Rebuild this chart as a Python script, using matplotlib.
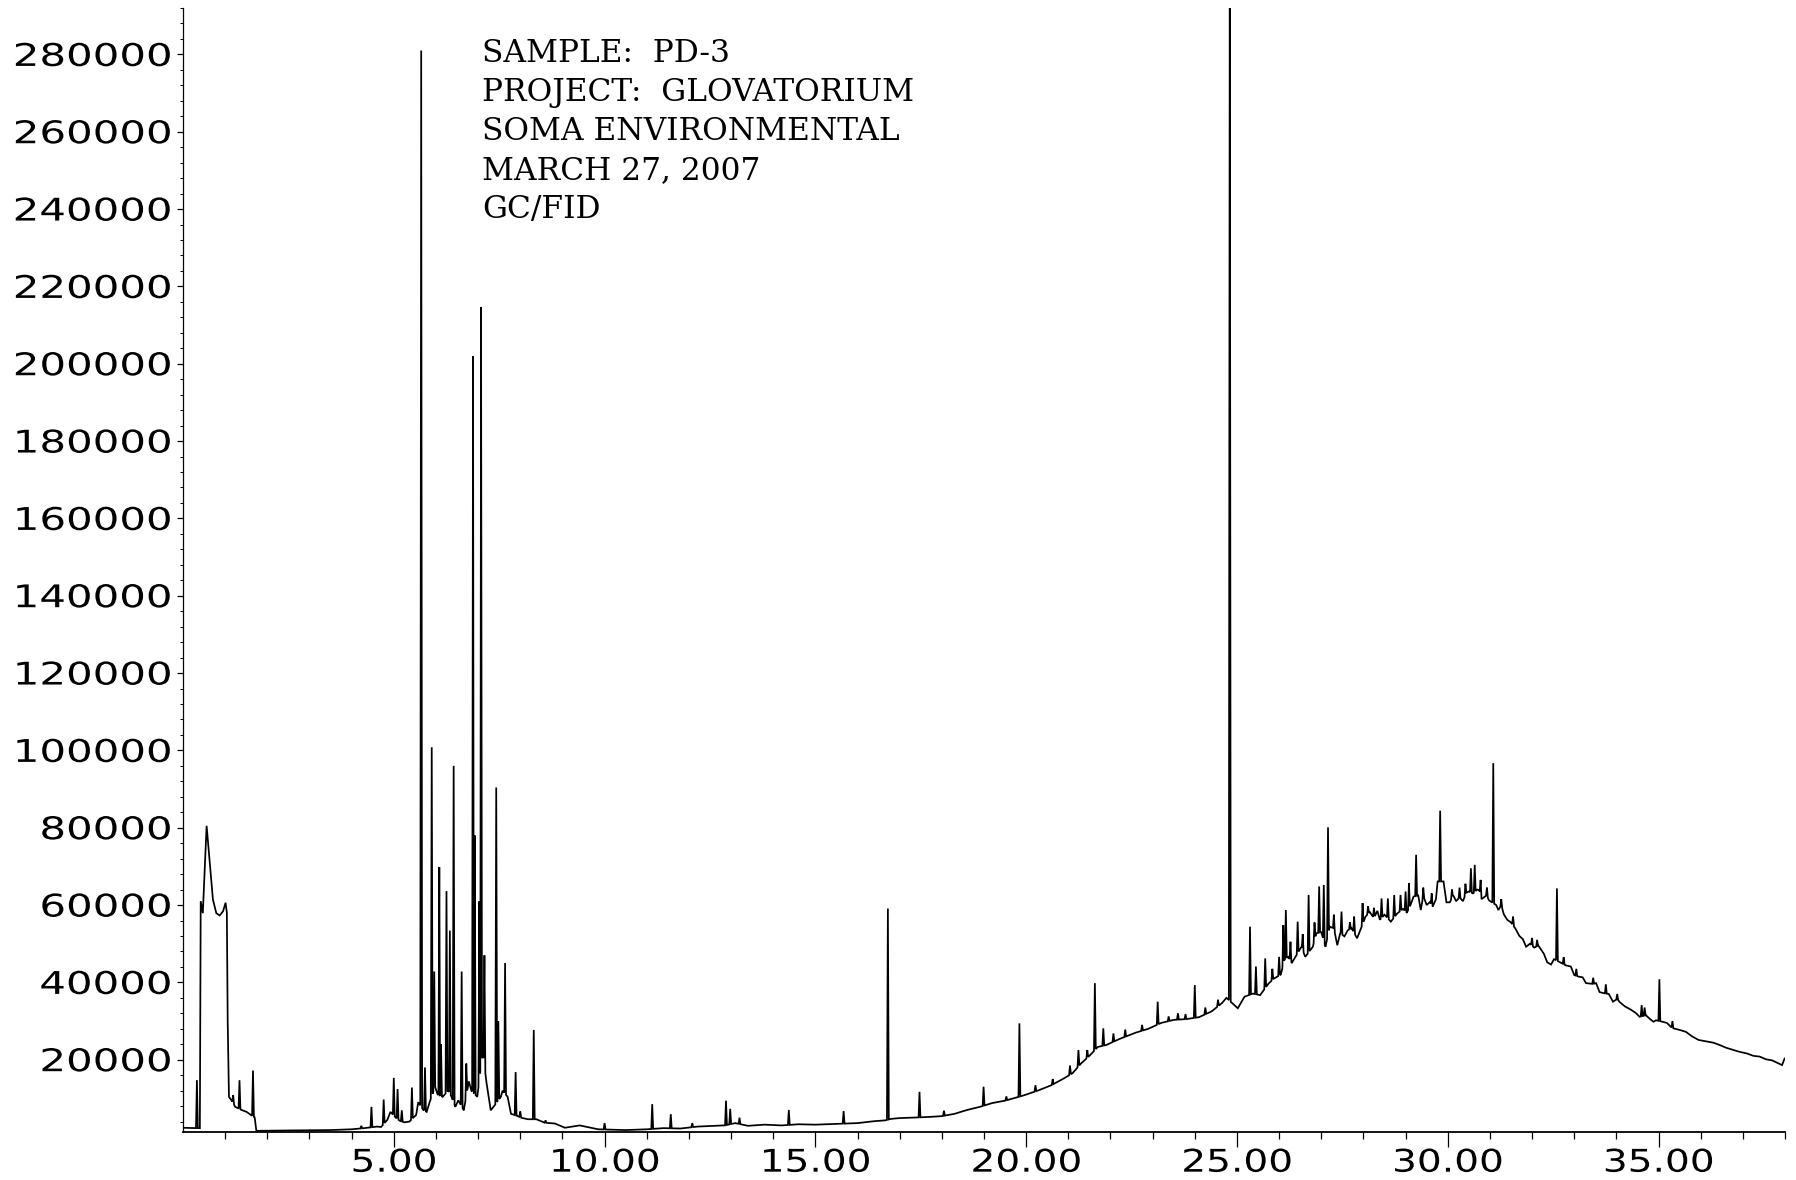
import numpy as np
import matplotlib
matplotlib.use("Agg")
import matplotlib.pyplot as plt
from matplotlib.ticker import FixedLocator, MultipleLocator, FuncFormatter
from matplotlib.patheffects import AbstractPathEffect
from matplotlib.transforms import Affine2D

# GC/FID trace: slowly varying signal (time in min, response)
base_t = np.array([
    0.00, 0.30, 0.40, 0.42, 0.47, 0.56, 0.63, 0.71, 0.79, 0.87, 0.95, 1.01, 1.04, 1.06,
    1.09, 1.15, 1.24, 1.39, 1.51, 1.62, 1.70, 1.74, 2.50, 3.50, 4.00, 4.30, 4.60, 4.70,
    4.85, 4.92, 5.05, 5.14, 5.25, 5.37, 5.53, 5.58, 5.70, 5.78, 5.85, 5.98, 6.04, 6.16,
    6.29, 6.37, 6.46, 6.53, 6.66, 6.78, 6.84, 6.98, 7.11, 7.20, 7.30, 7.38, 7.54, 7.58,
    7.70, 7.78, 7.92, 8.02, 8.18, 8.38, 8.58, 8.82, 9.06, 9.41, 9.85, 10.50, 11.00, 11.40,
    11.80, 12.20, 12.60, 12.85, 13.10, 13.40, 13.80, 14.20, 14.60, 15.00, 15.50, 16.00,
    16.40, 16.65, 16.80, 17.00, 17.30, 17.70, 18.00, 18.30, 18.60, 18.90, 19.20, 19.50,
    19.70, 19.95, 20.30, 20.60, 20.90, 21.10, 21.30, 21.50, 21.70, 21.90, 22.20, 22.60,
    22.90, 23.20, 23.50, 23.80, 24.10, 24.40, 24.65, 24.75, 24.95, 25.02, 25.18, 25.38,
    25.55, 25.75, 25.88, 26.04, 26.13, 26.22, 26.30, 26.53, 26.62, 26.80, 26.88, 27.00,
    27.10, 27.20, 27.30, 27.38, 27.45, 27.55, 27.63, 27.72, 27.85, 28.05, 28.15, 28.25,
    28.33, 28.39, 28.50, 28.65, 28.80, 28.94, 29.03, 29.12, 29.19, 29.30, 29.36, 29.42,
    29.50, 29.58, 29.64, 29.72, 29.76, 29.90, 29.97, 30.05, 30.13, 30.20, 30.28, 30.36,
    30.44, 30.50, 30.60, 30.70, 30.75, 30.80, 30.92, 30.98, 31.15, 31.20, 31.27, 31.33,
    31.41, 31.50, 31.60, 31.70, 31.78, 31.86, 31.95, 32.05, 32.15, 32.28, 32.36, 32.45,
    32.52, 32.70, 32.80, 32.92, 33.00, 33.10, 33.20, 33.28, 33.45, 33.52, 33.60, 33.70,
    33.82, 33.92, 34.02, 34.08, 34.20, 34.35, 34.47, 34.55, 34.70, 34.80, 34.88, 34.94,
    35.10, 35.20, 35.32, 35.50, 35.65, 35.80, 35.95, 36.10, 36.30, 36.45, 36.60, 36.75,
    36.90, 37.10, 37.25, 37.40, 37.55, 37.70, 37.85, 37.93, 37.99])
base_v = np.array([
    2400, 2300, 2300, 61000, 57900, 80500, 71700, 61400, 57900, 57300, 58400, 60600, 58000, 30100,
    10400, 9500, 7800, 7000, 6500, 5600, 5100, 1600, 1700, 1800, 2000, 2300, 2700, 2600,
    4500, 6500, 5000, 4200, 3800, 4000, 5700, 9000, 7000, 6500, 9000, 13000, 11000, 10400,
    12000, 10400, 7800, 9500, 6900, 14400, 12000, 10400, 22000, 14000, 6900, 8000, 10400, 12000,
    10400, 6000, 5500, 5000, 4600, 4600, 3700, 3500, 2400, 3000, 2000, 1800, 2000, 2300,
    2200, 2700, 2900, 3000, 3600, 2900, 3200, 3000, 3300, 3200, 3400, 3600,
    4100, 4300, 4700, 4900, 5000, 5200, 5400, 6000, 7000, 7800, 8800, 9400,
    10000, 10800, 12100, 13400, 15200, 16500, 19000, 21000, 23300, 23800, 25300, 27000,
    28000, 29500, 30300, 30500, 31000, 32500, 34700, 36000, 34000, 33300, 36300, 37100,
    36700, 39700, 41000, 42000, 46000, 46600, 45000, 49200, 46600, 49200, 52700, 53000,
    49200, 54400, 54000, 49600, 52700, 51900, 53500, 54000, 51400, 57000, 58200, 56600,
    58500, 56200, 57500, 55700, 57800, 59000, 58000, 60100, 62200, 62500, 58700, 62400,
    60000, 60800, 59500, 61500, 66100, 66100, 60700, 60700, 62500, 61000, 62000, 61000,
    63200, 63500, 63000, 64000, 63800, 61500, 62500, 61200, 60000, 58700, 60000, 57600,
    56200, 55500, 54000, 52000, 51200, 49200, 50000, 49000, 49500, 47400, 45200, 44600,
    46000, 45000, 44400, 44100, 41900, 41500, 41300, 39800, 39600, 39800, 37500, 37200,
    37000, 35000, 35700, 34900, 33800, 32900, 32000, 31100, 31500, 30500, 29800, 30200,
    29800, 29500, 28200, 27700, 27200, 26000, 25100, 24800, 24400, 23800, 23100, 22600,
    22100, 21600, 21000, 20800, 20100, 19800, 19000, 18600, 20300])

# narrow peaks: retention time and apex response
peak_t = np.array([
    0.33, 1.19, 1.34, 1.66, 4.23, 4.47, 4.76, 5.00, 5.09, 5.19, 5.43, 5.65, 5.74, 5.90,
    5.96, 6.08, 6.12, 6.25, 6.33, 6.42, 6.61, 6.72, 6.88, 6.92, 7.03, 7.07, 7.15, 7.43,
    7.48, 7.64, 7.89, 8.00, 8.32, 8.60, 10.00, 11.13, 11.57, 12.08, 12.88, 12.98, 13.20,
    14.37, 15.67, 16.72, 17.47, 18.05, 18.99, 19.53, 19.84, 20.22, 20.63, 21.04, 21.24,
    21.45, 21.63, 21.83, 22.07, 22.35, 22.75, 23.12, 23.38, 23.60, 23.78, 24.00, 24.25,
    24.55, 24.83, 25.31, 25.45, 25.67, 25.84, 26.00, 26.10, 26.16, 26.27, 26.44, 26.56,
    26.70, 26.84, 26.95, 27.06, 27.16, 27.30, 27.48, 27.68, 27.78, 27.98, 28.11, 28.25,
    28.43, 28.58, 28.73, 28.88, 29.00, 29.08, 29.25, 29.42, 29.62, 29.82, 30.10, 30.28,
    30.42, 30.55, 30.64, 30.78, 30.93, 31.08, 31.27, 31.55, 32.00, 32.12, 32.59, 32.75,
    33.05, 33.45, 33.75, 34.02, 34.60, 34.67, 35.02, 35.33])
peak_v = np.array([
    14700, 10800, 14700, 17200, 2900, 7800, 9700, 15300, 12400, 6900, 12800, 281000, 18000, 100800,
    42800, 69800, 24000, 63600, 53400, 96000, 42800, 19000, 202000, 78000, 61000, 214600, 47000, 90400,
    30000, 45000, 16800, 6600, 27700, 4300, 3600, 8500, 5900, 3600, 9400, 7300, 5000,
    7000, 6700, 59100, 11700, 6800, 13000, 10500, 29400, 13400, 15000, 18500, 22500,
    22500, 39800, 28100, 26800, 27800, 29000, 35000, 31200, 32000, 31800, 39300, 33500,
    35500, 310000, 54400, 44100, 46200, 43500, 46600, 54800, 58700, 50500, 55700, 52500,
    62600, 55500, 64800, 65200, 80100, 57500, 58300, 55500, 57000, 60500, 59700, 59300,
    61700, 61700, 62600, 62600, 63500, 65700, 73000, 64500, 63000, 84400, 64000, 64500,
    65500, 69500, 70400, 66500, 64500, 96700, 61500, 57000, 51500, 51000, 64300, 46500,
    43500, 41200, 39500, 37000, 34100, 33500, 40800, 30000])

x_major = [5, 10, 15, 20, 25, 30, 35]
sample_info = ["SAMPLE:  PD-3", "PROJECT:  GLOVATORIUM", "SOMA ENVIRONMENTAL",
               "MARCH 27, 2007", "GC/FID"]


class Widen(AbstractPathEffect):
    # the scan uses a wide sans face; stretch glyphs horizontally
    def __init__(self, sx, anchor):
        super().__init__()
        self.sx = sx
        self.anchor = anchor

    def draw_path(self, renderer, gc, tpath, affine, rgbFace=None):
        if len(tpath.vertices):
            xs = affine.transform(tpath.vertices)[:, 0]
            if self.anchor == "right":
                x0 = xs.max()
            else:
                x0 = 0.5 * (xs.min() + xs.max())
            affine = affine + Affine2D().translate(-x0, 0).scale(self.sx, 1).translate(x0, 0)
        renderer.draw_path(gc, tpath, affine, rgbFace)


# build the polyline: each peak is a thin spike seated on the slow signal
w = 0.022
keep = np.ones(base_t.size, bool)
for t in peak_t:
    keep &= np.abs(base_t - t) >= w
foot_l = peak_t - w
foot_r = peak_t + w
tt = np.concatenate([base_t[keep], foot_l, peak_t, foot_r])
vv = np.concatenate([base_v[keep], np.interp(foot_l, base_t, base_v), peak_v,
                     np.interp(foot_r, base_t, base_v)])
order = np.argsort(tt, kind="stable")
tt, vv = tt[order], vv[order]

W, H = 1796, 1180
fig = plt.figure(figsize=(W / 100, H / 100), dpi=100)
ax = fig.add_axes([183 / W, 48 / H, (1785 - 183) / W, (1172 - 48) / H])

ax.plot(tt, vv, color="black", lw=1.25, solid_joinstyle="miter")

ax.set_xlim(0, 38)
ax.set_ylim(1300, 292000)
for s in ["top", "right"]:
    ax.spines[s].set_visible(False)
ax.spines["left"].set_linewidth(0.9)
ax.spines["bottom"].set_linewidth(1.3)

ax.xaxis.set_major_locator(FixedLocator(x_major))
ax.xaxis.set_minor_locator(FixedLocator([m for m in range(1, 39) if m not in x_major]))
ax.xaxis.set_major_formatter(FuncFormatter(lambda v, p: f"{v:.2f}"))
ax.yaxis.set_major_locator(MultipleLocator(20000))
ax.yaxis.set_minor_locator(MultipleLocator(4000))
ax.yaxis.set_major_formatter(FuncFormatter(lambda v, p: f"{v:.0f}"))

ax.tick_params(axis="x", which="major", direction="out", length=10.5, width=0.9,
               pad=1.5, labelsize=22.5)
ax.tick_params(axis="x", which="minor", direction="out", length=5, width=0.9)
ax.tick_params(axis="y", which="major", direction="out", length=4.5, width=0.9,
               pad=3.5, labelsize=22.5)
ax.tick_params(axis="y", which="minor", direction="out", length=2, width=0.7)

for i, line in enumerate(sample_info):
    fig.text(482 / W, 1 - (62 + 39 * i) / H, line, family="DejaVu Serif",
             fontsize=22.5, va="baseline", ha="left")

fig.canvas.draw()
for lab in ax.get_yticklabels():
    lab.set_path_effects([Widen(1.34, "right")])
for lab in ax.get_xticklabels():
    lab.set_path_effects([Widen(1.25, "center")])

fig.savefig("out.png", dpi=100)
